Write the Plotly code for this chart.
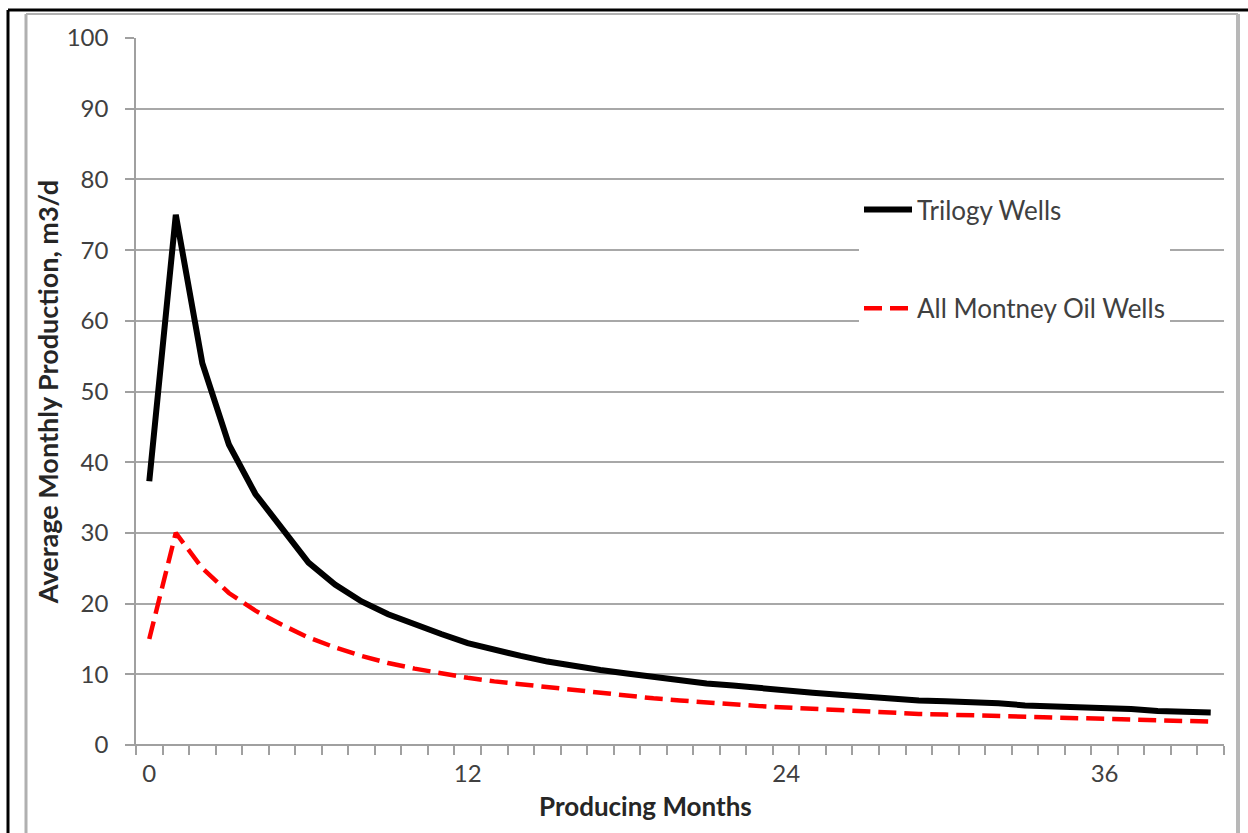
import plotly.graph_objects as go

months = list(range(41))
trilogy = [37.3, 75, 54, 42.5, 35.5, 30.5, 25.8, 22.7, 20.3, 18.5, 17, 15.7, 14.4, 13.4, 12.6,
           11.8, 11.1, 10.6, 10.1, 9.6, 9.1, 8.7, 8.4, 8.0, 7.7, 7.4, 7.1, 6.8, 6.6, 6.3,
           6.2, 6.1, 5.9, 5.6, 5.5, 5.3, 5.1, 5.1, 4.8, 4.8, 4.6]
montney = [15, 30, 25, 21.5, 19, 17, 15.2, 13.8, 12.6, 11.6, 10.8, 10.1, 9.5, 9.0, 8.6,
           8.1, 7.7, 7.3, 6.9, 6.6, 6.3, 6.0, 5.8, 5.5, 5.3, 5.1, 4.9, 4.7, 4.6, 4.4,
           4.3, 4.2, 4.1, 4.0, 3.9, 3.8, 3.7, 3.5, 3.4, 3.4, 3.3]
x_ticks = [0, 12, 24, 36]
y_ticks = list(range(0, 101, 10))

FONT = "Lato"
W, H = 1248, 833
L, R, T, B = 136, 1224, 38, 745

def px(x):
    return (x - L) / (R - L)

def py(y):
    return (B - y) / (B - T)

fig = go.Figure()
fig.add_trace(go.Scatter(x=months, y=trilogy, mode="lines", name="Trilogy Wells",
                         legendgroup="a",
                         line=dict(color="black", width=6)))
fig.add_trace(go.Scatter(x=months, y=montney, mode="lines", name="All Montney Oil Wells",
                         legendgroup="b",
                         line=dict(color="#ff0000", width=4.5, dash="18px,8px")))

fig.update_layout(
    width=W, height=H,
    margin=dict(l=L, r=W - R, t=T, b=H - B),
    paper_bgcolor="white", plot_bgcolor="white",
    font=dict(family=FONT, size=24, color="#404040"),
    showlegend=True,
    legend=dict(x=px(859), y=py(186), xanchor="left", yanchor="top",
                bgcolor="white", traceorder="grouped", tracegroupgap=62,
                font=dict(family=FONT, size=26, color="#404040"),
                itemwidth=48),
    xaxis=dict(range=[-0.5, 40.5], tickmode="array", tickvals=x_ticks,
               ticktext=[str(v) for v in x_ticks], ticks="", showgrid=False,
               zeroline=False, showline=False, ticklabelstandoff=12,
               tickfont=dict(size=24, color="#404040"),
               minor=dict(ticks="outside", tick0=-0.5, dtick=1, ticklen=9,
                          tickcolor="#a0a0a0", tickwidth=1.5, showgrid=False)),
    yaxis=dict(range=[0, 100], tickmode="array", tickvals=y_ticks,
               ticks="outside", ticklen=9, tickcolor="#a0a0a0", tickwidth=1.5,
               showgrid=True, gridcolor="#a8a8a8", gridwidth=2,
               zeroline=False, showline=True, linecolor="#a0a0a0", linewidth=1.5,
               ticklabelstandoff=12,
               tickfont=dict(size=24, color="#404040"),
               title=dict(text="<b>Average Monthly Production, m3/d</b>", standoff=0,
                          font=dict(family=FONT, size=27, color="#262626"))),
)

fig.add_annotation(text="<b>Producing Months</b>", xref="paper", yref="paper",
                   x=px(645), y=py(806), xanchor="center", yanchor="middle",
                   showarrow=False, font=dict(family=FONT, size=26, color="#262626"))

# x axis baseline
fig.add_shape(type="line", xref="paper", yref="paper", x0=px(127), x1=1, y0=0, y1=0,
              line=dict(color="#a0a0a0", width=2))
# chart area frame (gray) and outer black border
fig.add_shape(type="line", xref="paper", yref="paper", x0=px(26), x1=px(1238),
              y0=py(14), y1=py(14), line=dict(color="#b0b0b0", width=2))
fig.add_shape(type="line", xref="paper", yref="paper", x0=px(26), x1=px(26),
              y0=py(14), y1=py(840), line=dict(color="#b0b0b0", width=3))
fig.add_shape(type="line", xref="paper", yref="paper", x0=px(1238), x1=px(1238),
              y0=py(14), y1=py(840), line=dict(color="#b8b8b8", width=4))
fig.add_shape(type="line", xref="paper", yref="paper", x0=px(8), x1=px(1250),
              y0=py(10), y1=py(10), line=dict(color="black", width=3))
fig.add_shape(type="line", xref="paper", yref="paper", x0=px(8), x1=px(8),
              y0=py(10), y1=py(840), line=dict(color="black", width=3))

fig.write_html("out.html", config={"displayModeBar": False},
               post_script="document.body.style.margin='0';document.body.style.overflow='hidden';")
